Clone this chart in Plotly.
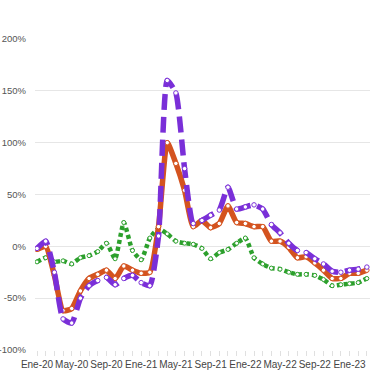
import plotly.graph_objects as go

months = ["Ene", "Feb", "Mar", "Abr", "May", "Jun", "Jul", "Ago", "Sep", "Oct", "Nov", "Dic"]
periods = [f"{m}-{y}" for y in ["20", "21", "22", "23"] for m in months][:39]

serie_naranja = [-3, 0, -28, -62, -60, -43, -31, -27, -23, -31, -19, -23, -26, -25, 19,
                 100, 80, 54, 19, 25, 18, 22, 39, 23, 22, 19, 19, 5, 5, -1,
                 -11, -10, -16, -23, -31, -31, -26, -26, -23]
serie_morada = [-2, 5, -25, -70, -74, -50, -38, -33, -30, -37, -31, -28, -35, -38, 10,
                160, 148, 75, 22, 25, 30, 35, 57, 36, 38, 40, 36, 21, 13, 3,
                -4, -6, -12, -17, -24, -25, -23, -22, -20]
serie_verde = [-15, -11, -15, -14, -17, -11, -9, -5, 3, -12, 23, -4, -13, 8, 17,
               12, 5, 3, 2, -2, -12, -6, -3, 3, 8, -11, -17, -21, -22, -25,
               -27, -27, -28, -32, -38, -37, -36, -35, -31]

y_ticks = [-100, -50, 0, 50, 100, 150, 200]
y_labels = [f"{v}%" for v in y_ticks]

fig = go.Figure()

def add(vals, color, dash, width, msize):
    fig.add_trace(go.Scatter(
        x=periods, y=vals, mode="lines+markers",
        line=dict(color=color, width=width, dash=dash, shape="spline", smoothing=0.5),
        marker=dict(symbol="circle", size=msize, color="white", line=dict(color=color, width=1)),
        showlegend=False, hoverinfo="skip"))

add(serie_verde, "#2ca02c", "4px,3px", 4.5, 4)
add(serie_naranja, "#d4531f", "solid", 5.5, 4.5)
add(serie_morada, "#7a2fd8", "16px,7px", 5.5, 4.5)

fig.update_layout(
    width=370, height=383,
    margin=dict(l=35, r=0, t=39, b=33),
    paper_bgcolor="white", plot_bgcolor="white",
    font=dict(family="Liberation Sans, Arial, sans-serif", color="#555"),
    xaxis=dict(
        type="category", range=[-0.23, 38.36], automargin=False,
        tickmode="array", tickvals=periods,
        ticktext=[p if i % 4 == 0 else "" for i, p in enumerate(periods)],
        ticks="outside", ticklen=5, tickcolor="#e0e0e0", tickwidth=1,
        showgrid=False, showline=False, zeroline=False,
        tickfont=dict(size=10, color="#444"), tickangle=0,
    ),
    yaxis=dict(
        range=[-100, 200], tickmode="array", tickvals=y_ticks, ticktext=y_labels,
        automargin=False,
        showgrid=True, gridcolor="#e6e6e6", gridwidth=1,
        zeroline=True, zerolinecolor="#e6e6e6", zerolinewidth=1,
        showline=False, ticks="", ticklabelstandoff=8,
        tickfont=dict(size=9.5, color="#555"),
    ),
)

fig.write_html("out.html", config={"displayModeBar": False},
               post_script="document.body.style.margin='0';")
